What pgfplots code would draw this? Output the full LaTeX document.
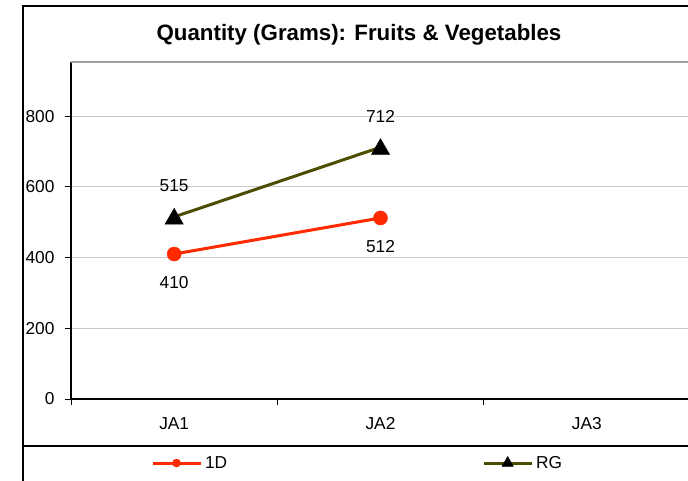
\documentclass[border=0pt]{standalone}
\usepackage{fontspec}
\setmainfont{Liberation Sans}
\usepackage{pgfplots}
\pgfplotsset{compat=1.18}
\definecolor{redline}{HTML}{FF2A00}
\definecolor{oliveline}{HTML}{4D4D00}
\definecolor{gridc}{HTML}{C8C8C8}
\definecolor{topc}{HTML}{A0A0A0}
\begin{document}
\begin{tikzpicture}[x=1pt,y=1pt]
\useasboundingbox (0,0) rectangle (688,-480);
\clip (0,0) rectangle (688,-480);
\fill[white] (0,0) rectangle (688,-480);
\draw[line width=2pt] (23,-490) -- (23,-6) -- (700,-6);
\draw[line width=1.3pt] (23,-446) -- (700,-446);
\node[font=\fontsize{22.3}{26}\selectfont\bfseries] at (359,-35) {Quantity (Grams): Fruits \& Vegetables};
\begin{axis}[at={(71pt,-399pt)}, anchor=south west, scale only axis,
  width=619pt, height=337pt,
  xmin=0.5, xmax=3.5, ymin=0, ymax=953,
  axis x line*=bottom, axis y line*=left,
  xtick={0.5,1.5,2.5,3.5}, x tick label as interval, xticklabels={JA1,JA2,JA3},
  ytick={0,200,400,600,800},
  ymajorgrids, grid style={gridc, line width=1pt},
  tick align=outside, major tick length=6pt,
  tick style={black, line width=1pt},
  axis line style={black, line width=1.3pt},
  tick label style={font=\fontsize{17.3}{20}\selectfont},
  xticklabel style={yshift=-9pt},
  yticklabel style={xshift=-7pt},
  /pgf/number format/assume math mode=true,
  legend columns=2,
  legend image code/.code={\draw[mark repeat=2,mark phase=2,#1] plot coordinates {(0pt,0pt) (24pt,0pt) (48pt,0pt)};},
  legend style={at={(0.129,-0.19)}, anchor=west, draw=none, fill=none, inner sep=0pt,
    font=\fontsize{17.3}{20}\selectfont, nodes={inner sep=0pt},
    /tikz/every odd column/.append style={column sep=3pt},
    /tikz/every even column/.append style={column sep=255pt}},
  clip=false,
]
\draw[topc, line width=1.3pt] (rel axis cs:0,1) -- (rel axis cs:1.02,1);
\addplot[redline, line width=3pt, mark=*, mark size=7pt, mark options={fill=redline, draw=redline, line width=0.5pt},
  nodes near coords, point meta=explicit symbolic,
  every node near coord/.append style={anchor=center, yshift=-29pt, black, font=\fontsize{17.3}{20}\selectfont},
  forget plot] coordinates {(1,410)[410] (2,512)[512]};
\addplot[oliveline, line width=3pt, mark=triangle*, mark size=10.5pt, mark options={fill=black, draw=black, line width=0.5pt, yshift=-2pt},
  nodes near coords, point meta=explicit symbolic,
  every node near coord/.append style={anchor=center, yshift=33pt, black, font=\fontsize{17.3}{20}\selectfont},
  forget plot] coordinates {(1,515)[515] (2,712)[712]};
\addlegendimage{redline, line width=3pt, mark=*, mark size=4pt, mark options={fill=redline, draw=redline, line width=0.5pt}}
\addlegendentry{1D}
\addlegendimage{oliveline, line width=3pt, mark=triangle*, mark size=6.5pt, mark options={fill=black, draw=black, line width=0.5pt}}
\addlegendentry{RG}
\end{axis}
\end{tikzpicture}
\end{document}
